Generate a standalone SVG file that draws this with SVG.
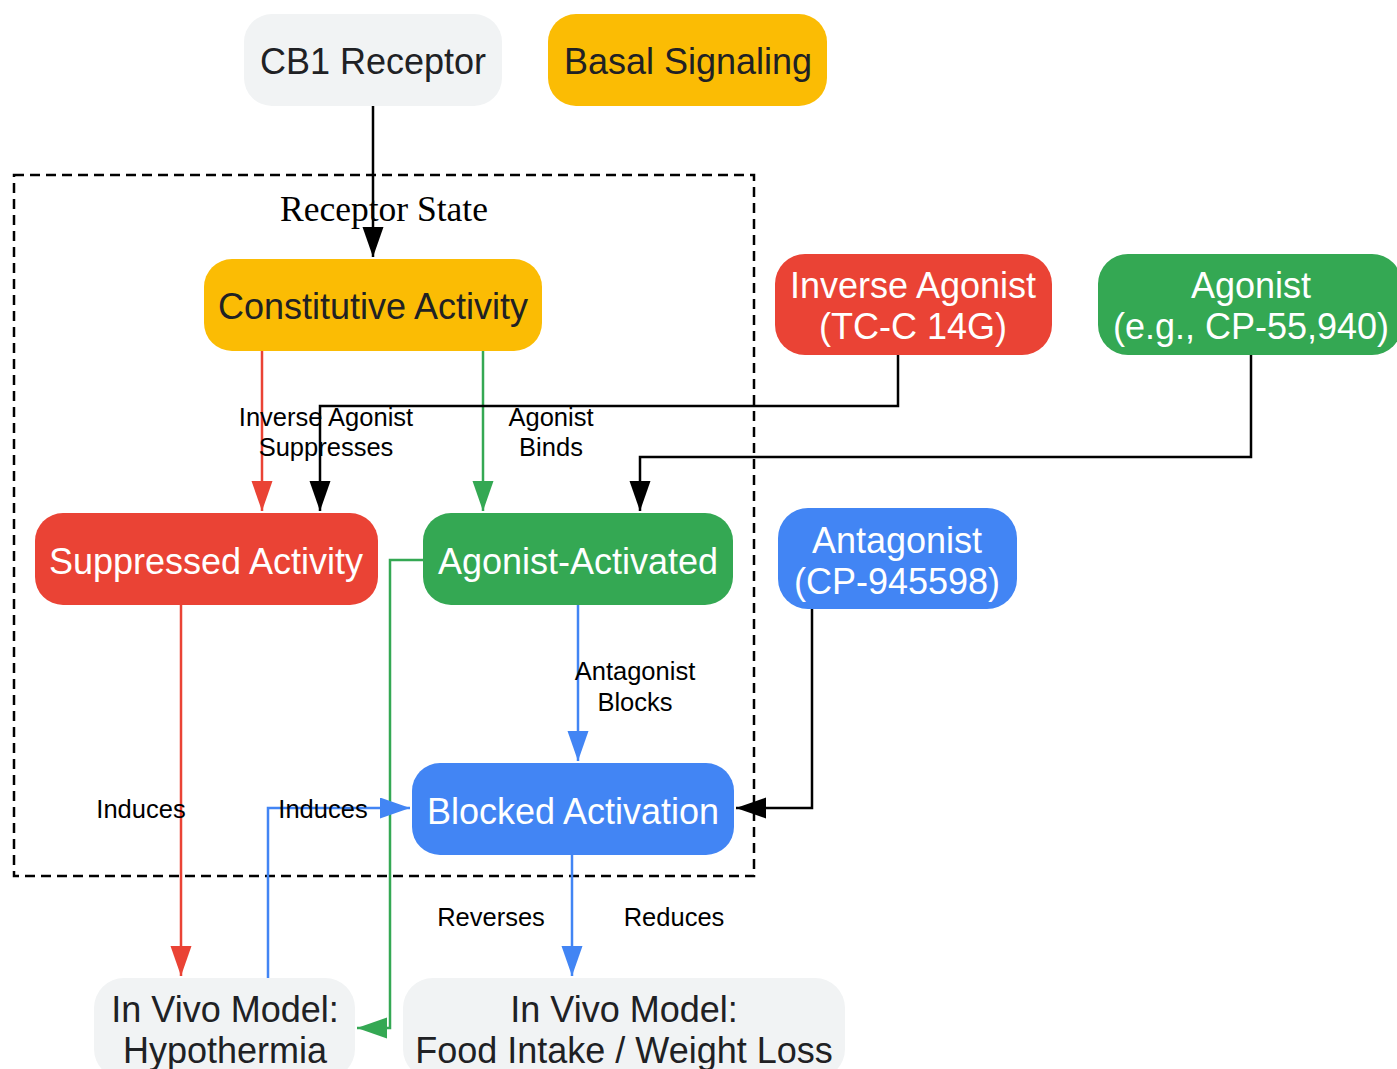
<svg xmlns="http://www.w3.org/2000/svg" width="1397" height="1069" viewBox="0 0 1397 1069">
<style>
.nt{font-family:"Liberation Sans",Arial,sans-serif;font-size:36px;text-anchor:middle}
.dk{fill:#202124}
.wt{fill:#ffffff}
.lb{font-family:"Liberation Sans",Arial,sans-serif;font-size:25.5px;text-anchor:middle;fill:#000}
.e{fill:none;stroke-width:2.5}
</style>
<defs>
<marker id="ak" markerUnits="userSpaceOnUse" markerWidth="32" markerHeight="22" refX="30" refY="10.5" orient="auto"><path d="M0,0L30,10.5L0,21z" fill="#000"/></marker>
<marker id="ar" markerUnits="userSpaceOnUse" markerWidth="32" markerHeight="22" refX="30" refY="10.5" orient="auto"><path d="M0,0L30,10.5L0,21z" fill="#ea4335"/></marker>
<marker id="ag" markerUnits="userSpaceOnUse" markerWidth="32" markerHeight="22" refX="30" refY="10.5" orient="auto"><path d="M0,0L30,10.5L0,21z" fill="#34a853"/></marker>
<marker id="ab" markerUnits="userSpaceOnUse" markerWidth="32" markerHeight="22" refX="30" refY="10.5" orient="auto"><path d="M0,0L30,10.5L0,21z" fill="#4285f4"/></marker>
</defs>
<rect width="1397" height="1069" fill="#ffffff"/>
<g id="cluster-receptor-state">
<rect x="14" y="175" width="740" height="701" fill="none" stroke="#000" stroke-width="2.5" stroke-dasharray="10,6"/>
<text x="384" y="221" font-family="'Liberation Serif','Times New Roman',serif" font-size="35.5" text-anchor="middle" fill="#000">Receptor State</text>
</g>
<g id="connectors">
<path class="e" stroke="#000" d="M373,106V257" marker-end="url(#ak)"/>
<path class="e" stroke="#ea4335" d="M262,350V511" marker-end="url(#ar)"/>
<path class="e" stroke="#34a853" d="M483,350V511" marker-end="url(#ag)"/>
<path class="e" stroke="#000" d="M898,355V406H320V511" marker-end="url(#ak)"/>
<path class="e" stroke="#000" d="M1251,355V457H640V511" marker-end="url(#ak)"/>
<path class="e" stroke="#4285f4" d="M578,605V761" marker-end="url(#ab)"/>
<path class="e" stroke="#000" d="M812,609V808H736" marker-end="url(#ak)"/>
<path class="e" stroke="#ea4335" d="M181,605V976" marker-end="url(#ar)"/>
<path class="e" stroke="#34a853" d="M423,560H390V1028H357" marker-end="url(#ag)"/>
<path class="e" stroke="#4285f4" d="M268,978V808H410" marker-end="url(#ab)"/>
<path class="e" stroke="#4285f4" d="M572,855V976" marker-end="url(#ab)"/>
<text class="lb" x="326" y="426">Inverse Agonist</text>
<text class="lb" x="326" y="456">Suppresses</text>
<text class="lb" x="551" y="426">Agonist</text>
<text class="lb" x="551" y="456">Binds</text>
<text class="lb" x="635" y="680">Antagonist</text>
<text class="lb" x="635" y="711">Blocks</text>
<text class="lb" x="141" y="818">Induces</text>
<text class="lb" x="323" y="818">Induces</text>
<text class="lb" x="491" y="926">Reverses</text>
<text class="lb" x="674" y="926">Reduces</text>
</g>
<g id="node-cb1">
<rect x="244" y="14" width="258" height="92" rx="28" fill="#f1f3f4"/>
<text class="nt dk" x="373" y="74">CB1 Receptor</text>
</g>
<g id="node-basal">
<rect x="548" y="14" width="279" height="92" rx="28" fill="#fbbc04"/>
<text class="nt dk" x="688" y="74">Basal Signaling</text>
</g>
<g id="node-constitutive">
<rect x="204" y="259" width="338" height="92" rx="28" fill="#fbbc04"/>
<text class="nt dk" x="373" y="319">Constitutive Activity</text>
</g>
<g id="node-inverse">
<rect x="775" y="254" width="277" height="101" rx="30" fill="#ea4335"/>
<text class="nt wt" x="913" y="298">Inverse Agonist</text>
<text class="nt wt" x="913" y="339">(TC-C 14G)</text>
</g>
<g id="node-agonist">
<rect x="1098" y="254" width="304" height="101" rx="30" fill="#34a853"/>
<text class="nt wt" x="1251" y="298">Agonist</text>
<text class="nt wt" x="1251" y="339">(e.g., CP-55,940)</text>
</g>
<g id="node-suppressed">
<rect x="35" y="513" width="343" height="92" rx="28" fill="#ea4335"/>
<text class="nt wt" x="206" y="574">Suppressed Activity</text>
</g>
<g id="node-agonist-activated">
<rect x="423" y="513" width="310" height="92" rx="28" fill="#34a853"/>
<text class="nt wt" x="578" y="574">Agonist-Activated</text>
</g>
<g id="node-antagonist">
<rect x="778" y="508" width="239" height="101" rx="30" fill="#4285f4"/>
<text class="nt wt" x="897" y="553">Antagonist</text>
<text class="nt wt" x="897" y="594">(CP-945598)</text>
</g>
<g id="node-blocked">
<rect x="412" y="763" width="322" height="92" rx="28" fill="#4285f4"/>
<text class="nt wt" x="573" y="824">Blocked Activation</text>
</g>
<g id="node-hypothermia">
<rect x="94" y="978" width="261" height="101" rx="30" fill="#f1f3f4"/>
<text class="nt dk" x="225" y="1022">In Vivo Model:</text>
<text class="nt dk" x="225" y="1063">Hypothermia</text>
</g>
<g id="node-food">
<rect x="403" y="978" width="442" height="101" rx="30" fill="#f1f3f4"/>
<text class="nt dk" x="624" y="1022">In Vivo Model:</text>
<text class="nt dk" x="624" y="1063">Food Intake / Weight Loss</text>
</g>
</svg>
